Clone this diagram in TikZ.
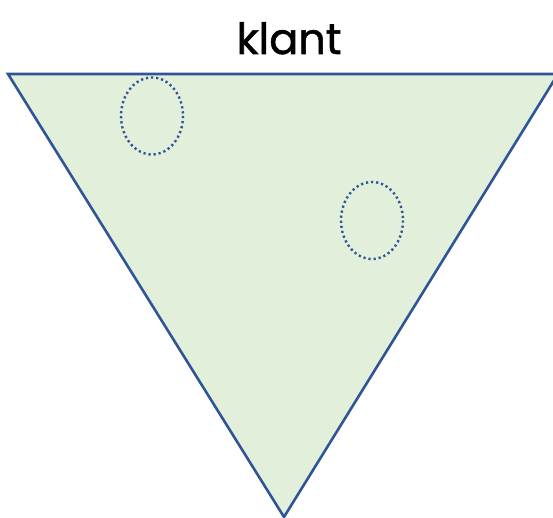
\documentclass[tikz,border=0pt]{standalone}
\usepackage{fontspec}
\newfontfamily\klantfont{Poppins}[FakeBold=1.2]
\usetikzlibrary{positioning}
\definecolor{klgreen}{RGB}{226,239,218}
\definecolor{klblue}{RGB}{47,85,151}

\begin{document}
\begin{tikzpicture}[x=1pt, y=-1pt,
  funnel/.style={draw=klblue, fill=klgreen, line width=2.6pt, line join=miter},
  zone/.style={draw=klblue, line width=2.4pt, dash pattern=on 2.2pt off 2.9pt},
  title/.style={font=\klantfont\fontsize{43}{43}\selectfont, anchor=base, inner sep=0pt}
]
\useasboundingbox (0,0) rectangle (553,518);
% Trechter
\coordinate (tl) at (8,74);
\coordinate (tr) at (558,74);
\coordinate (bot) at (284,517);
\draw[funnel] (tl) -- (tr) -- (bot) -- cycle;
\node[title] (klant) at (289,54) {klant};
% Gestippelde zones
\coordinate (z1) at (152,116);
\coordinate (z2) at (372,220.5);
\draw[zone] (z1) ellipse [x radius=31, y radius=38.5];
\draw[zone] (z2) ellipse [x radius=31, y radius=38.5];
\end{tikzpicture}
\end{document}
